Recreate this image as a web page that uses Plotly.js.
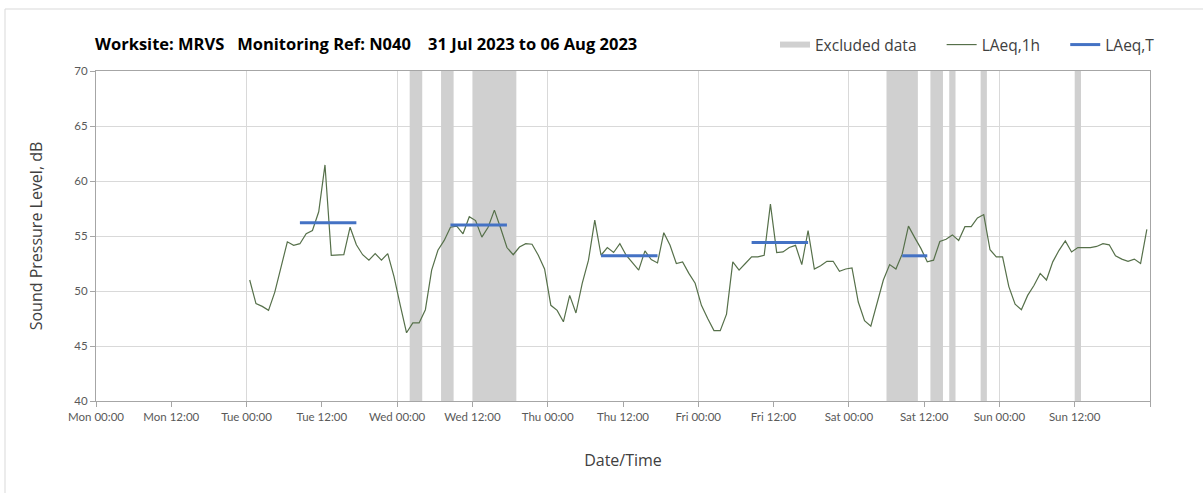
<!DOCTYPE html>
<html>
<head>
<meta charset="utf-8">
<script src="https://cdn.plot.ly/plotly-3.0.1.min.js"></script>
<style>html,body{margin:0;padding:0;background:#fff;}#chart{width:1203px;height:493px;}</style>
</head>
<body>
<div id="chart"></div>
<script>
// ---- data ----
const hourlyFirst = '2023-08-01 00:30';
const laeq1h = [
  51.0, 48.85, 48.6, 48.24, 49.9, 52.3, 54.47, 54.16, 54.3, 55.2, 55.5, 57.2,
  61.46, 53.25, 53.25, 53.3, 55.8, 54.2, 53.3, 52.8, 53.4, 52.8, 53.4, 51.3,
  48.7, 46.2, 47.1, 47.1, 48.3, 51.9, 53.7, 54.6, 55.8, 55.9, 55.2, 56.75,
  56.4, 54.9, 55.8, 57.35, 55.7, 53.95, 53.3, 54.0, 54.3, 54.25, 53.25, 52.0,
  48.7, 48.24, 47.2, 49.6, 48.0, 50.7, 52.8, 56.45, 53.25, 53.95, 53.5, 54.3,
  53.25, 52.55, 51.9, 53.65, 52.85, 52.55, 55.3, 54.15, 52.5, 52.65, 51.6, 50.7,
  48.7, 47.5, 46.4, 46.4, 47.9, 52.65, 51.9, 52.5, 53.1, 53.1, 53.25, 57.9,
  53.5, 53.55, 53.95, 54.15, 52.4, 55.5, 52.0, 52.3, 52.7, 52.7, 51.8, 52.0,
  52.1, 49.0, 47.3, 46.8, 48.85, 51.0, 52.4, 52.0, 53.35, 55.9, 54.85, 53.85,
  52.65, 52.8, 54.5, 54.7, 55.1, 54.6, 55.85, 55.85, 56.65, 56.95, 53.75, 53.1,
  53.1, 50.4, 48.8, 48.3, 49.6, 50.5, 51.6, 51.0, 52.65, 53.7, 54.55, 53.55,
  53.95, 53.95, 53.95, 54.05, 54.3, 54.2, 53.2, 52.9, 52.7, 52.9, 52.5, 55.6
];

const periodStart = ['2023-08-01 08:30','2023-08-02 08:30','2023-08-03 08:30','2023-08-04 08:30','2023-08-05 08:30'];
const periodEnd   = ['2023-08-01 17:30','2023-08-02 17:30','2023-08-03 17:30','2023-08-04 17:30','2023-08-05 12:30'];
const laeqT       = [56.2, 56.0, 53.2, 54.4, 53.2];

const excludedStart = ['2023-08-02 02:00','2023-08-02 07:00','2023-08-02 12:00','2023-08-05 06:00','2023-08-05 13:00','2023-08-05 16:00','2023-08-05 21:00','2023-08-06 12:00'];
const excludedEnd   = ['2023-08-02 04:00','2023-08-02 09:00','2023-08-02 19:00','2023-08-05 11:00','2023-08-05 15:00','2023-08-05 17:00','2023-08-05 22:00','2023-08-06 13:00'];

const axisStart = '2023-07-31 00:00';
const axisEnd   = '2023-08-07 00:00';
const tickLabels = ['Mon 00:00','Mon 12:00','Tue 00:00','Tue 12:00','Wed 00:00','Wed 12:00','Thu 00:00','Thu 12:00','Fri 00:00','Fri 12:00','Sat 00:00','Sat 12:00','Sun 00:00','Sun 12:00',''];
const yMin = 40, yMax = 70;

// ---- helpers ----
const HOUR = 3600000;
function t(s){ return Date.parse(s.replace(' ','T') + ':00Z'); }
const SP = '\u00a0';

const hourlyX = laeq1h.map((v,i) => t(hourlyFirst) + i*HOUR);

const exX = [], exY = [];
excludedStart.forEach((s,i) => {
  const a = t(s), b = t(excludedEnd[i]);
  exX.push(a, a, b, b, a, null);
  exY.push(yMin, yMax, yMax, yMin, yMin, null);
});

const tX = [], tY = [];
periodStart.forEach((s,i) => {
  tX.push(t(s), t(periodEnd[i]), null);
  tY.push(laeqT[i], laeqT[i], null);
});

const tickVals = tickLabels.map((l,i) => t(axisStart) + i*12*HOUR);
const dayVals = [];
for (let i = 0; i <= 7; i++) dayVals.push(t(axisStart) + i*24*HOUR);

const traces = [
  {type:'scatter', mode:'none', name:'Excluded data' + SP.repeat(5), x:exX, y:exY, fill:'toself',
   fillcolor:'#d0d0d0', line:{width:0}, hoverinfo:'skip'},
  {type:'scatter', mode:'lines', name:'LAeq,1h' + SP.repeat(5), x:hourlyX, y:laeq1h,
   line:{color:'#56704a', width:1.2}},
  {type:'scatter', mode:'lines', name:'LAeq,T', x:tX, y:tY, xaxis:'x2',
   line:{color:'#4472c4', width:3}}
];

const fontFam = 'Lato, "Open Sans", sans-serif';
const fontWide = '"Open Sans", Lato, sans-serif';
const layout = {
  width:1203, height:493,
  margin:{l:96, r:53, t:71, b:92, pad:0},
  paper_bgcolor:'#ffffff', plot_bgcolor:'#ffffff',
  font:{family:fontFam, color:'#595959', size:11},
  title:{text:'<b>Worksite: MRVS' + SP.repeat(3) + 'Monitoring Ref: N040' + SP.repeat(4) + '31 Jul 2023 to 06 Aug 2023</b>',
         font:{family:fontWide, size:16.5, color:'#000000'},
         x:95/1203, xanchor:'left', xref:'container', y:1-44/493, yanchor:'middle', yref:'container'},
  showlegend:true,
  legend:{orientation:'h', x:(1160-96)/1054, xanchor:'right', y:(401-45)/330, yanchor:'middle',
          font:{family:fontWide, size:15.5, color:'#404040'}, bgcolor:'rgba(0,0,0,0)', traceorder:'normal'},
  xaxis:{type:'date', range:[t(axisStart), t(axisEnd)], tickmode:'array', tickvals:tickVals, ticktext:tickLabels,
         ticks:'outside', ticklen:5, tickcolor:'#a6a6a6', showline:true, linecolor:'#a6a6a6', linewidth:1,
         mirror:true, showgrid:false, zeroline:false, tickfont:{size:11.5, color:'#595959'},
         title:{text:'Date/Time', font:{family:fontWide, size:16, color:'#404040'}, standoff:33}},
  xaxis2:{type:'date', overlaying:'x', range:[t(axisStart), t(axisEnd)], tickmode:'array', tickvals:dayVals,
          showgrid:true, gridcolor:'#d9d9d9', gridwidth:1, showticklabels:false, ticks:'', showline:false, zeroline:false},
  yaxis:{range:[yMin, yMax], dtick:5, tick0:40, ticks:'outside', ticklen:5, tickcolor:'#a6a6a6',
         showline:true, linecolor:'#a6a6a6', linewidth:1, mirror:true, gridcolor:'#d9d9d9', gridwidth:1, zeroline:false,
         tickfont:{size:11.5, color:'#595959'},
         title:{text:'Sound Pressure Level, dB', font:{family:fontWide, size:16, color:'#404040'}, standoff:27}},
  shapes:[{type:'rect', xref:'paper', yref:'paper', x0:(5-96)/1054, x1:1.06, y0:-0.4, y1:(401-9)/330,
           line:{color:'#d9d9d9', width:1}, fillcolor:'rgba(0,0,0,0)', layer:'below'}]
};

Plotly.newPlot('chart', traces, layout, {displayModeBar:false, staticPlot:true});
</script>
</body>
</html>
